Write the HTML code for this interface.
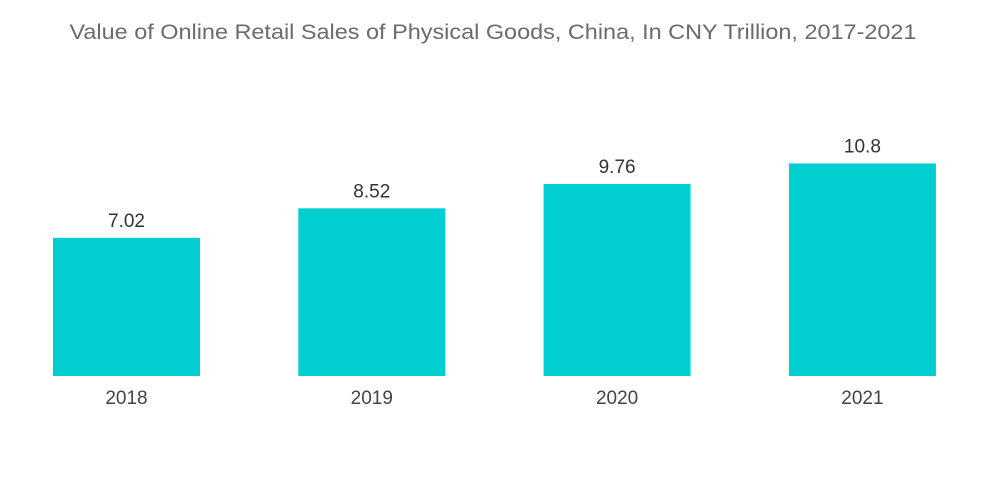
<!DOCTYPE html>
<html><head><meta charset="utf-8"><style>
html,body{margin:0;padding:0;background:#fff;}
svg{display:block;font-family:"Liberation Sans",sans-serif;}
</style></head><body>
<svg id="chart" width="1000" height="504">
<text x="493" y="39" text-anchor="middle" font-size="21" textLength="847" lengthAdjust="spacingAndGlyphs" fill="#6b6b6b">Value of Online Retail Sales of Physical Goods, China, In CNY Trillion, 2017-2021</text>
<g id="bars"></g>
</svg>
<script>
const categories = ["2018","2019","2020","2021"];
const values = [7.02, 8.52, 9.76, 10.8];
const valueLabels = ["7.02","8.52","9.76","10.8"];
const baseline = 376, pxPerUnit = 19.68;
const x0 = 53, step = 245.3, bw = 147;
const yScale = v => baseline - v * pxPerUnit;
const xScale = i => x0 + i * step;
const g = document.getElementById('bars');
const NS = "http://www.w3.org/2000/svg";
categories.forEach((c, i) => {
  const r = document.createElementNS(NS, 'rect');
  r.setAttribute('x', xScale(i));
  r.setAttribute('y', yScale(values[i]));
  r.setAttribute('width', bw);
  r.setAttribute('height', baseline - yScale(values[i]));
  r.setAttribute('fill', '#00ced1');
  
  
  g.appendChild(r);
  const t = document.createElementNS(NS, 'text');
  t.setAttribute('x', xScale(i) + bw / 2);
  t.setAttribute('y', yScale(values[i]) - 11);
  t.setAttribute('text-anchor', 'middle');
  t.setAttribute('font-size', '19');
  t.setAttribute('fill', '#333');
  t.textContent = valueLabels[i];
  
  
  g.appendChild(t);
  const l = document.createElementNS(NS, 'text');
  l.setAttribute('x', xScale(i) + bw / 2);
  l.setAttribute('y', 404);
  l.setAttribute('text-anchor', 'middle');
  l.setAttribute('font-size', '19');
  l.setAttribute('fill', '#444');
  l.textContent = c;
  
  
  g.appendChild(l);
});
</script>
</body></html>
